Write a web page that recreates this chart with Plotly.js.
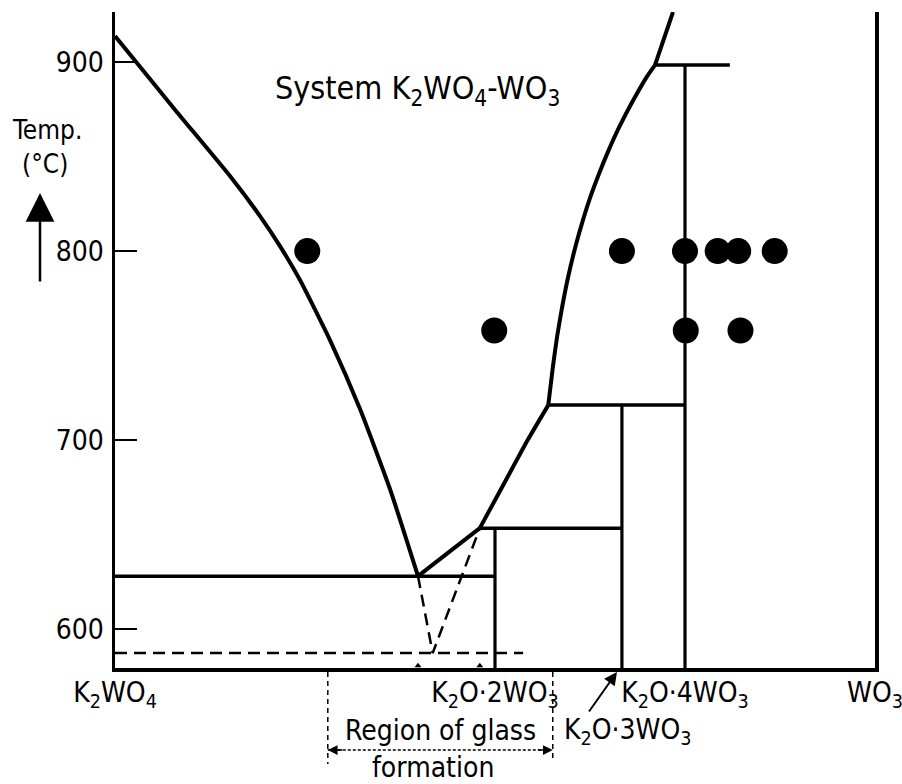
<!DOCTYPE html>
<html>
<head>
<meta charset="utf-8">
<script src="https://cdn.plot.ly/plotly-3.0.1.min.js"></script>
<style>html,body{margin:0;padding:0;background:#fff;}#chart{width:902px;height:784px;}</style>
</head>
<body>
<div id="chart"></div>
<script>
// ---- Data (x = mol % WO3 in K2WO4–WO3, T = temperature °C) ----
const liqLeftX = [0, 2.89, 8.16, 15.13, 19.08, 21.71, 24.34, 28.29, 32.24, 36.18, 39.87];
const liqLeftT = [913.8, 899.5, 873.5, 839.7, 818.5, 802.6, 784.7, 752.9, 716.4, 674.1, 628.0];
const eutLineX = [39.87, 48.0];
const eutLineT = [628.0, 653.4];
const liqMidX = [48.0, 51.3, 54.3, 57.01];
const liqMidT = [653.4, 677.8, 700.0, 718.5];
const liqRightX = [57.01, 57.62, 58.17, 58.84, 59.63, 60.58, 61.57, 62.55, 63.70, 64.96, 66.37, 68.20, 69.97, 71.05];
const liqRightT = [718.5, 738.8, 754.7, 770.5, 786.4, 802.3, 816.4, 828.7, 841.1, 853.4, 865.8, 879.9, 892.2, 898.4];
const liqTopX = [71.05, 73.42];
const liqTopT = [898.4, 926.5];

// horizontal invariant lines
const horizX0 = [0, 48.0, 57.01, 71.05];
const horizX1 = [49.9, 66.7, 75.0, 80.9];
const horizT  = [628.0, 653.4, 718.5, 898.4];
// vertical compound lines
const vertX = [50.0, 66.7, 75.0];
const vertTop = [653.4, 718.5, 898.4];
const Tbottom = 579.4;

// metastable (dashed) lines
const metaVX = [39.87, 41.8, 48.0];
const metaVT = [628.0, 587.3, 653.4];
const metaHX = [0, 53.7];
const metaHT = [587.3, 587.3];

// small marks on the composition axis
const markX = [39.87, 48.0];

// experimental points
const dotsX = [25.3, 49.9, 66.7, 75.0, 79.3, 82.0, 86.8, 75.1, 82.3];
const dotsT = [800, 758, 800, 800, 800, 800, 800, 758, 758];

// axis labels
const yTickVals = [600, 700, 800, 900];
const xTickVals = [0, 50, 75, 100];
const xTickText = ['K<sub>2</sub>WO<sub>4</sub>', 'K<sub>2</sub>O·2WO<sub>3</sub>', 'K<sub>2</sub>O·4WO<sub>3</sub>', 'WO<sub>3</sub>'];
const k3Label = 'K<sub>2</sub>O·3WO<sub>3</sub>';
const k3X = 66.05;
const glassRange = [28.0, 57.6];

const xRange = [0, 100];
const yRange = [579.4, 926.5];
const FONT = '"DejaVu Sans Condensed", "Liberation Sans Narrow", "DejaVu Sans", sans-serif';
const K = '#000';

function solid(x, y, w, shape) {
  return {x: x, y: y, mode: 'lines', type: 'scatter', hoverinfo: 'skip',
    line: {color: K, width: w, shape: shape || 'linear', smoothing: 0.5}, showlegend: false};
}
const traces = [];
traces.push(solid(liqLeftX, liqLeftT, 4, 'spline'));
traces.push(solid(eutLineX, eutLineT, 4));
traces.push(solid(liqMidX, liqMidT, 4, 'spline'));
traces.push(solid(liqRightX, liqRightT, 4, 'spline'));
traces.push(solid(liqTopX, liqTopT, 4));
for (let i = 0; i < horizT.length; i++) {
  traces.push(solid([horizX0[i], horizX1[i]], [horizT[i], horizT[i]], 3.5));
}
for (let i = 0; i < vertX.length; i++) {
  traces.push(solid([vertX[i], vertX[i]], [vertTop[i], Tbottom], 3.2));
}
traces.push({x: metaVX, y: metaVT, mode: 'lines', type: 'scatter', hoverinfo: 'skip', showlegend: false,
  line: {color: K, width: 2.5, dash: '12px,7px'}});
traces.push({x: metaHX, y: metaHT, mode: 'lines', type: 'scatter', hoverinfo: 'skip', showlegend: false,
  line: {color: K, width: 2.5, dash: '12px,7px'}});
traces.push({x: markX, y: markX.map(() => Tbottom + 1.2), mode: 'markers', type: 'scatter', hoverinfo: 'skip',
  showlegend: false, marker: {symbol: 'triangle-up', size: 6, color: K}});
traces.push({x: dotsX, y: dotsT, mode: 'markers', type: 'scatter', showlegend: false,
  marker: {size: 26, color: K, line: {width: 0}}});

// plot area is 760 x 656 px starting at (115, 12)
const PW = 760, PH = 656, L = 115, T0 = 12;
function pxX(px) { return (px - L) / PW; }
function pxY(py) { return (T0 + PH - py) / PH; }
function dataX(x) { return (x - xRange[0]) / (xRange[1] - xRange[0]); }

const shapes = [
  {type: 'line', xref: 'paper', yref: 'paper', x0: dataX(glassRange[0]), x1: dataX(glassRange[0]), y0: pxY(672), y1: pxY(764),
   line: {color: K, width: 1.5, dash: '5px,4px'}},
  {type: 'line', xref: 'paper', yref: 'paper', x0: dataX(glassRange[1]), x1: dataX(glassRange[1]), y0: pxY(672), y1: pxY(762),
   line: {color: K, width: 1.5, dash: '5px,4px'}},
  {type: 'line', xref: 'paper', yref: 'paper', x0: dataX(glassRange[0]), x1: dataX(glassRange[1]), y0: pxY(750), y1: pxY(750),
   line: {color: K, width: 1.5, dash: '3px,2px'}}
];

const txtFont = {family: FONT, size: 28, color: K};
const annotations = [
  {xref: 'paper', yref: 'paper', x: pxX(417), y: pxY(90), xanchor: 'center', yanchor: 'middle', showarrow: false,
   text: 'System K<sub>2</sub>WO<sub>4</sub>-WO<sub>3</sub>', font: {family: FONT, size: 32, color: K}},
  {xref: 'paper', yref: 'paper', x: pxX(47), y: pxY(130), xanchor: 'center', yanchor: 'middle', showarrow: false,
   text: 'Temp.', font: {family: FONT, size: 26, color: K}},
  {xref: 'paper', yref: 'paper', x: pxX(45), y: pxY(164), xanchor: 'center', yanchor: 'middle', showarrow: false,
   text: '(°C)', font: {family: FONT, size: 26, color: K}},
  {xref: 'paper', yref: 'paper', x: pxX(40), y: pxY(193), ax: 0, ay: 90, text: '', showarrow: true,
   arrowhead: 2, arrowsize: 2.3, arrowwidth: 2.5, arrowcolor: K},
  {xref: 'paper', yref: 'paper', x: pxX(628), y: pxY(731), xanchor: 'center', yanchor: 'middle', showarrow: false,
   text: k3Label, font: txtFont},
  {xref: 'paper', yref: 'paper', x: dataX(k3X), y: pxY(672), ax: -29, ay: 41, text: '', showarrow: true,
   arrowhead: 2, arrowsize: 1.3, arrowwidth: 2, arrowcolor: K},
  {xref: 'paper', yref: 'paper', x: pxX(440), y: pxY(730), xanchor: 'center', yanchor: 'middle', showarrow: false,
   text: 'Region of glass', font: txtFont},
  {xref: 'paper', yref: 'paper', x: pxX(433), y: pxY(767), xanchor: 'center', yanchor: 'middle', showarrow: false,
   text: 'formation', font: txtFont},
  {xref: 'paper', yref: 'paper', x: dataX(glassRange[0]), y: pxY(750), ax: 16, ay: 0, text: '', showarrow: true,
   arrowhead: 2, arrowsize: 1.3, arrowwidth: 1.5, arrowcolor: K},
  {xref: 'paper', yref: 'paper', x: dataX(glassRange[1]), y: pxY(750), ax: -16, ay: 0, text: '', showarrow: true,
   arrowhead: 2, arrowsize: 1.3, arrowwidth: 1.5, arrowcolor: K}
];

const layout = {
  width: 902, height: 784,
  margin: {l: L, r: 902 - L - PW, t: T0, b: 784 - T0 - PH},
  paper_bgcolor: '#fff', plot_bgcolor: '#fff',
  font: {family: FONT, color: K},
  xaxis: {range: xRange, showgrid: false, zeroline: false, showline: true, linecolor: K, linewidth: 3.5,
    tickvals: xTickVals, ticktext: xTickText, ticks: '', tickfont: {family: FONT, size: 28, color: K},
    ticklabelstandoff: -3, ticklabeloverflow: 'allow', automargin: false},
  yaxis: {range: yRange, showgrid: false, zeroline: false, showline: true, mirror: true, linecolor: K, linewidth: 3.5,
    tickvals: yTickVals, ticks: 'inside', ticklen: 22, tickwidth: 2.5, tickcolor: K,
    tickfont: {family: FONT, size: 28, color: K}, ticklabelstandoff: 2, automargin: false},
  shapes: shapes,
  annotations: annotations,
  showlegend: false
};

Plotly.newPlot('chart', traces, layout, {staticPlot: true, displayModeBar: false});
</script>
</body>
</html>
